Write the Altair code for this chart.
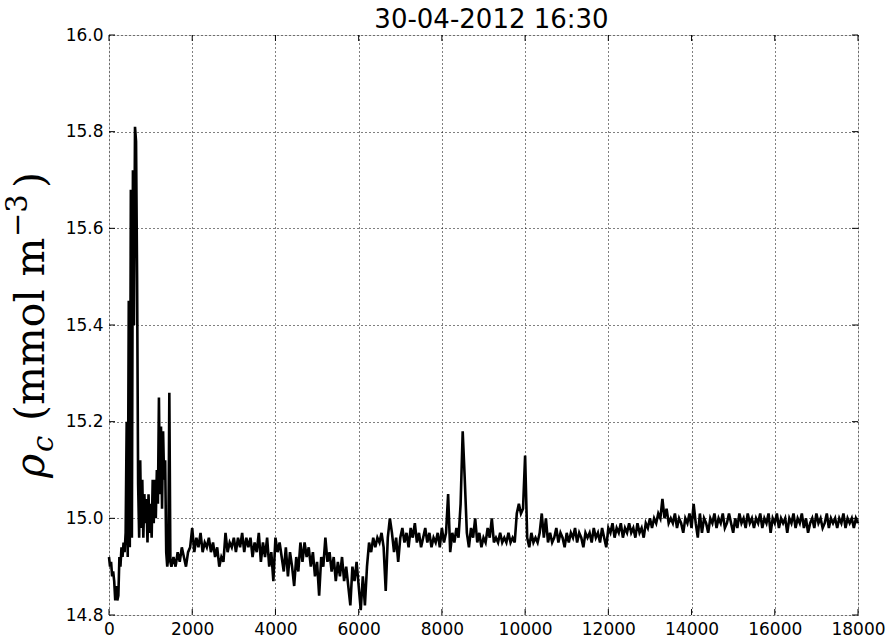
import altair as alt
import pandas as pd

title_text = "30-04-2012 16:30"
x_ticks = [0, 2000, 4000, 6000, 8000, 10000, 12000, 14000, 16000, 18000]
y_ticks = [14.8, 15.0, 15.2, 15.4, 15.6, 15.8, 16.0]

# rho_c samples; the first block is sampled every 25, all later blocks every 50
rho_0000_1500 = [
    14.92, 14.90, 14.91, 14.88, 14.89, 14.87, 14.83, 14.86, 14.83, 14.84,
    14.92, 14.90, 14.94, 14.92, 14.95, 14.93, 14.97, 15.20, 14.92, 15.45,
    14.94, 15.68, 14.96, 15.72, 15.40, 15.81, 15.78, 15.50, 15.07, 14.96,
    15.12, 14.98, 15.08, 14.96, 15.05, 14.99, 15.04, 14.95, 15.05, 14.97,
    15.03, 14.96, 15.08, 14.99, 15.08, 15.00, 15.10, 15.03, 15.25, 15.05,
    15.19, 15.02, 15.18, 15.08, 15.12, 14.93, 14.90, 14.92, 15.26, 14.91,
    14.90,
]
rho_1550_3500 = [
    14.92, 14.90, 14.93, 14.91, 14.94, 14.92, 14.90, 14.93, 14.94, 14.98,
    14.93, 14.96, 14.94, 14.97, 14.93, 14.95, 14.94, 14.96, 14.93, 14.95,
    14.92, 14.94, 14.90, 14.92, 14.91, 14.97, 14.93, 14.95, 14.94, 14.96,
    14.93, 14.96, 14.94, 14.97, 14.93, 14.96, 14.94, 14.96, 14.92, 14.95,
]
rho_3550_5500 = [
    14.93, 14.97, 14.91, 14.95, 14.92, 14.96, 14.90, 14.93, 14.87, 14.96,
    14.93, 14.95, 14.92, 14.89, 14.94, 14.88, 14.93, 14.90, 14.86, 14.92,
    14.89, 14.95, 14.91, 14.95, 14.92, 14.94, 14.90, 14.93, 14.88, 14.91,
    14.84, 14.92, 14.90, 14.96, 14.91, 14.93, 14.89, 14.92, 14.87, 14.91,
]
rho_5550_7500 = [
    14.88, 14.92, 14.87, 14.90, 14.86, 14.82, 14.90, 14.87, 14.91, 14.86,
    14.81, 14.88, 14.82, 14.90, 14.95, 14.93, 14.96, 14.94, 14.96, 14.95,
    14.97, 14.94, 14.85, 14.96, 15.00, 14.97, 14.93, 14.96, 14.91, 14.96,
    14.98, 14.95, 14.97, 14.94, 14.98, 14.96, 14.99, 14.95, 14.97, 14.94,
]
rho_7550_9500 = [
    14.96, 14.98, 14.95, 14.97, 14.94, 14.96, 14.95, 14.97, 14.94, 14.98,
    14.95, 14.97, 15.05, 14.93, 14.97, 14.95, 14.98, 14.96, 15.03, 15.18,
    15.08, 14.97, 14.94, 14.98, 14.96, 15.00, 14.95, 14.97, 14.94, 14.96,
    14.95, 14.98, 14.96, 15.00, 14.95, 14.96, 14.95, 14.97, 14.95, 14.96,
]
rho_9550_11500 = [
    14.95, 14.97, 14.95, 14.96, 14.95, 15.01, 15.03, 15.01, 15.02, 15.13,
    14.96, 14.94, 14.97, 14.95, 14.96, 14.95, 14.97, 15.01, 14.96, 15.00,
    14.95, 14.97, 14.95, 14.96, 14.98, 14.95, 14.97, 14.96, 14.94, 14.97,
    14.95, 14.97, 14.96, 14.98, 14.95, 14.97, 14.96, 14.94, 14.97, 14.96,
]
rho_11550_13500 = [
    14.97, 14.95, 14.98, 14.96, 14.97, 14.95, 14.98, 14.96, 14.94, 14.98,
    14.97, 14.99, 14.96, 14.98, 14.97, 14.99, 14.96, 14.98, 14.97, 14.99,
    14.97, 14.98, 14.96, 14.99, 14.97, 14.98, 14.96, 14.99, 14.98, 15.00,
    14.98, 15.00, 14.99, 15.01, 15.00, 15.04, 15.00, 15.02, 14.99, 15.00,
]
rho_13550_15500 = [
    14.99, 15.01, 14.98, 15.00, 14.99, 14.97, 15.00, 14.99, 15.01, 14.98,
    15.03, 14.99, 14.96, 15.01, 14.97, 15.00, 14.99, 14.97, 15.00, 14.99,
    15.01, 14.98, 15.00, 14.99, 15.01, 14.98, 14.99, 15.01, 14.99, 14.97,
    15.00, 14.98, 15.01, 14.99, 15.00, 14.98, 15.01, 14.99, 15.00, 14.98,
]
rho_15550_17500 = [
    15.00, 14.99, 15.01, 14.98, 15.00, 14.99, 15.01, 14.97, 15.00, 14.99,
    15.01, 14.98, 15.00, 14.99, 15.00, 14.97, 15.00, 14.99, 15.01, 14.98,
    15.00, 14.99, 15.01, 14.98, 15.00, 14.97, 14.99, 15.00, 14.98, 15.01,
    14.99, 15.00, 14.98, 14.99, 15.01, 14.98, 15.00, 14.99, 15.00, 14.98,
]
rho_17550_18000 = [
    15.00, 14.99, 15.01, 14.98, 15.00, 14.99, 15.00, 14.98, 15.00, 14.99,
]

blocks = [
    (0, 25, rho_0000_1500),
    (1550, 50, rho_1550_3500),
    (3550, 50, rho_3550_5500),
    (5550, 50, rho_5550_7500),
    (7550, 50, rho_7550_9500),
    (9550, 50, rho_9550_11500),
    (11550, 50, rho_11550_13500),
    (13550, 50, rho_13550_15500),
    (15550, 50, rho_15550_17500),
    (17550, 50, rho_17550_18000),
]

xs, ys = [], []
for start, step, vals in blocks:
    for i, v in enumerate(vals):
        xs.append(start + i * step)
        ys.append(v)
series = pd.DataFrame({"t": xs, "rho": ys})

W, H = 749, 580
TICK = 6
x_scale = alt.Scale(domain=[0, 18000], nice=False, zero=False)
y_scale = alt.Scale(domain=[14.8, 16.0], nice=False, zero=False)

axis_common = dict(
    grid=True, gridColor="black", gridDash=[1, 3], gridOpacity=1, gridWidth=1,
    ticks=False, domain=False, labelFont="DejaVu Sans", labelFontSize=17,
    labelColor="black", labelPadding=6, title=None, labelOverlap=False,
    labelFlush=False,
)
x_axis = alt.Axis(values=x_ticks, format="d", **axis_common)
y_axis = alt.Axis(values=y_ticks, format=".1f", **axis_common)

line = alt.Chart(series).mark_line(color="black", strokeWidth=2.6, strokeJoin="miter").encode(
    x=alt.X("t:Q", scale=x_scale, axis=x_axis),
    y=alt.Y("rho:Q", scale=y_scale, axis=y_axis),
)

xt = pd.DataFrame({"t": x_ticks})
yt = pd.DataFrame({"rho": y_ticks})
tick_style = dict(color="black", strokeWidth=1)

# inward ticks on all four sides of the frame
ticks_bottom = alt.Chart(xt).mark_rule(**tick_style).encode(
    x=alt.X("t:Q", scale=x_scale, axis=x_axis), y=alt.value(H), y2=alt.value(H - TICK))
ticks_top = alt.Chart(xt).mark_rule(**tick_style).encode(
    x=alt.X("t:Q", scale=x_scale, axis=x_axis), y=alt.value(0), y2=alt.value(TICK))
ticks_left = alt.Chart(yt).mark_rule(**tick_style).encode(
    y=alt.Y("rho:Q", scale=y_scale, axis=y_axis), x=alt.value(0), x2=alt.value(TICK))
ticks_right = alt.Chart(yt).mark_rule(**tick_style).encode(
    y=alt.Y("rho:Q", scale=y_scale, axis=y_axis), x=alt.value(W - TICK), x2=alt.value(W))

# y-axis label built from pieces: rho, subscript c, units, superscript -3
def label_piece(txt, x, y, size, italic=False):
    return alt.Chart(pd.DataFrame({"s": [txt]})).mark_text(
        angle=270, align="left", baseline="alphabetic", font="DejaVu Serif",
        fontSize=size, fontStyle="italic" if italic else "normal", color="black",
    ).encode(text="s:N", x=alt.value(x), y=alt.value(y))

ylabel = [
    label_piece("ρ", -65, 443, 41, italic=True),
    label_piece("c", -56, 417, 29, italic=True),
    label_piece("(mmol\u00a0m", -65, 386, 41),
    label_piece("−3", -82, 202, 29),
    label_piece(")", -65, 153, 41),
]

chart = alt.layer(line, ticks_bottom, ticks_top, ticks_left, ticks_right, *ylabel).properties(
    width=W, height=H,
    title=alt.TitleParams(title_text, font="DejaVu Sans", fontSize=26, fontWeight="normal",
                          color="black", offset=5, dy=12, dx=8, anchor="middle"),
    padding={"left": 109, "top": 35, "right": 30, "bottom": 24},
    autosize=alt.AutoSizeParams(type="none"),
).configure_view(stroke="black", strokeWidth=1).configure(background="white")

chart.save("out.html", embed_options={"renderer": "svg", "actions": False})
